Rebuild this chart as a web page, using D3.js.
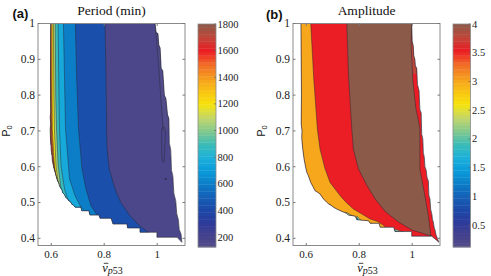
<!DOCTYPE html>
<html><head><meta charset="utf-8">
<script src="https://cdn.jsdelivr.net/npm/d3@7"></script>
<style>body{margin:0;background:#fff;}svg{display:block;}</style>
</head><body><svg id="c" width="491" height="276"></svg>
<script>
// ---------------- data ----------------
const xTicks = [0.6, 0.8, 1];
const yTicks = [0.4, 0.5, 0.6, 0.7, 0.8, 0.9, 1];
const periodTicks = [200, 400, 600, 800, 1000, 1200, 1400, 1600, 1800];
const amplitudeTicks = [0.5, 1, 1.5, 2, 2.5, 3, 3.5, 4];
const periodRange = [125, 1800];
const amplitudeRange = [0.12, 4];
const cmapT = [0, 0.05, 0.11, 0.17, 0.23, 0.285, 0.34, 0.40, 0.46, 0.52, 0.58, 0.64, 0.70, 0.76, 0.82, 0.88, 0.94, 1];
const cmapColors = ['#544f8a','#45418c','#2c3a9a','#1c4aa8','#1462b8','#0c7ec8','#0a9ada','#1cb0da','#3cbcb8','#84c98e','#c4d66a','#f6e40c','#f9c214','#f59b1f','#f16a27','#ec1c24','#c0463a','#8b5a48'];

// Period panel: valid region outline (v_p53, P0)
const periodOutline = [
 [0.598,1.0],[0.992,1.0],[0.996,0.975],[1.003,0.972],[1.006,0.94],[1.011,0.932],[1.015,0.875],[1.021,0.868],
 [1.027,0.80],[1.033,0.79],[1.039,0.745],[1.044,0.735],[1.046,0.665],[1.051,0.648],[1.054,0.59],[1.059,0.575],
 [1.063,0.525],[1.070,0.505],[1.074,0.468],[1.080,0.452],[1.083,0.425],[1.090,0.412],[1.093,0.389],
 [1.075,0.403],[0.999,0.403],[0.999,0.417],[0.935,0.417],[0.935,0.429],[0.888,0.429],[0.886,0.440],[0.833,0.440],
 [0.826,0.456],[0.784,0.456],[0.780,0.465],[0.746,0.465],[0.742,0.477],[0.715,0.477],[0.712,0.487],[0.690,0.487],
 [0.684,0.493],[0.678,0.495],[0.672,0.503],[0.666,0.505],[0.662,0.510],[0.655,0.514],[0.650,0.522],[0.643,0.528],
 [0.640,0.536],[0.636,0.540],[0.631,0.547],[0.628,0.556],[0.624,0.560],[0.618,0.575],[0.615,0.584],[0.612,0.590],
 [0.608,0.603],[0.606,0.611],[0.604,0.618],[0.603,0.631],[0.601,0.640],[0.600,0.645],[0.599,0.659],[0.597,0.680],
 [0.596,0.705],[0.598,0.720],[0.596,0.740],[0.598,0.750],[0.597,0.850]
];
// contour boundaries, right to left (band on the left of each edge gets the next value)
const periodBandValues = [170, 435, 602, 762, 880, 1046, 1197, 1450, 1700];
const periodEdge1 = [[0.803,1.0],[0.807,0.845],[0.809,0.705],[0.811,0.649],[0.819,0.594],[0.841,0.538],[0.862,0.501],[0.897,0.463],[0.934,0.435],[0.964,0.418],[1.0,0.40]];
const periodEdge2 = [[0.691,1.0],[0.696,0.845],[0.703,0.705],[0.716,0.594],[0.731,0.538],[0.750,0.491],[0.773,0.465],[0.79,0.445]];
const periodEdge3 = [[0.646,1.0],[0.650,0.85],[0.654,0.705],[0.669,0.566],[0.690,0.519],[0.712,0.487],[0.731,0.473],[0.746,0.46]];
const periodEdge4 = [[0.626,1.0],[0.629,0.80],[0.631,0.705],[0.637,0.603],[0.650,0.538],[0.662,0.510],[0.679,0.493],[0.701,0.476]];
const periodEdge5 = [[0.615,1.0],[0.617,0.80],[0.620,0.705],[0.626,0.603],[0.637,0.538],[0.648,0.510],[0.671,0.487]];
const periodEdge6 = [[0.608,1.0],[0.610,0.80],[0.612,0.705],[0.618,0.603],[0.629,0.538],[0.641,0.510],[0.66,0.49]];
const periodEdge7 = [[0.603,1.0],[0.603,0.80],[0.604,0.705],[0.612,0.603],[0.622,0.538],[0.633,0.510],[0.655,0.49]];
const periodEdge8 = [[0.597,1.0],[0.599,0.85],[0.600,0.74],[0.602,0.68],[0.605,0.64],[0.611,0.60],[0.62,0.57],[0.63,0.55]];
const periodRidge = [[0.992,1.0],[0.998,0.95],[1.006,0.88],[1.013,0.80],[1.019,0.74],[1.023,0.70]];
const periodRidgeValue = 135;
const periodLoop = [[1.018,0.705],[1.017,0.66],[1.018,0.625],[1.022,0.613],[1.026,0.618],[1.029,0.66],[1.030,0.705]];
const periodDot = [[1.032,0.566]];

// Amplitude panel
const amplitudeOutline = [
 [0.580,1.0],[0.998,1.0],[1.000,0.95],[1.004,0.938],[1.006,0.91],[1.010,0.90],[1.012,0.882],[1.017,0.875],
 [1.020,0.83],[1.026,0.812],[1.029,0.76],[1.034,0.75],[1.036,0.69],[1.040,0.678],[1.042,0.64],[1.046,0.625],
 [1.048,0.60],[1.053,0.59],[1.056,0.57],[1.061,0.56],[1.063,0.52],[1.067,0.51],[1.070,0.48],[1.074,0.468],
 [1.077,0.452],[1.080,0.445],[1.083,0.43],[1.086,0.424],[1.090,0.41],[1.095,0.40],[1.101,0.389],
 [1.074,0.406],[0.998,0.406],[0.998,0.419],[0.935,0.419],[0.930,0.431],[0.879,0.431],[0.875,0.442],[0.841,0.442],
 [0.835,0.449],[0.791,0.452],[0.785,0.462],[0.759,0.465],[0.752,0.470],[0.735,0.475],[0.715,0.482],[0.705,0.486],
 [0.696,0.491],[0.685,0.496],[0.677,0.501],[0.665,0.510],[0.652,0.524],[0.640,0.530],[0.633,0.533],[0.625,0.545],
 [0.617,0.556],[0.608,0.575],[0.602,0.585],[0.599,0.594],[0.592,0.621],[0.587,0.649],[0.583,0.680],[0.584,0.700],
 [0.581,0.720],[0.582,0.80]
];
const amplitudeBaseValue = 3.54;           // red band
const amplitudeOrangeValue = 3.0;
const amplitudeBrownValue = 4.0;
const amplitudeDarkRedValue = 3.78;
const amplitudeBitValue = 2.3;
const amplitudeBitInnerValue = 1.3;
const amplitudeEdgeOrange = [[0.617,1.0],[0.628,0.85],[0.642,0.705],[0.652,0.649],[0.671,0.594],[0.690,0.556],[0.728,0.519],[0.750,0.501],[0.778,0.482],[0.810,0.468],[0.841,0.454],[0.87,0.447],[0.89,0.437],[0.91,0.425]];
const amplitudeBrownLeft = [[0.753,1.0],[0.760,0.85],[0.772,0.705],[0.778,0.649],[0.797,0.594],[0.826,0.552],[0.860,0.510],[0.897,0.476],[0.947,0.446],[1.0,0.423],[1.074,0.406]];
const amplitudeBrownRight = [[1.070,0.41],[1.061,0.463],[1.048,0.519],[1.029,0.594],[1.029,0.705],[1.026,0.72],[1.014,0.762],[1.003,0.837],[0.996,0.937],[0.998,1.0]];
const amplitudeDarkRedEdge = [[0.998,1.0],[0.996,0.937],[1.001,0.86]];
const amplitudeBits = [[0.645,0.663,0.504,0.518],[0.690,0.72,0.482,0.496],[0.754,0.785,0.465,0.473],[0.795,0.815,0.451,0.462],[0.848,0.879,0.434,0.443],[0.935,0.992,0.418,0.426]];

// ---------------- drawing ----------------
const svg = d3.select('#c');
const serif = "'Liberation Serif', 'Times New Roman', serif";
const sans = "'Liberation Sans', Arial, sans-serif";
const yScale = d3.scaleLinear().domain([0.38, 1]).range([245.5, 23.5]);
const xDomain = [0.55, 1.105];

function cmap(range){
  return d3.scaleLinear().domain(cmapT.map(t => range[0] + t*(range[1]-range[0]))).range(cmapColors).interpolate(d3.interpolateRgb).clamp(true);
}
function leftRegion(pts){
  const last = pts[pts.length-1];
  return pts.concat([[last[0],0.30],[0.50,0.30],[0.50,1.03],[pts[0][0],1.03]]);
}
function rightRegion(pts){
  const last = pts[pts.length-1];
  return pts.concat([[1.25,last[1]],[1.25,1.03],[pts[0][0],1.03]]);
}

function panel(cfg){
  const x = d3.scaleLinear().domain(xDomain).range([cfg.left, cfg.right]);
  const y = yScale;
  const color = cmap(cfg.range);
  const line = d3.line().x(d => x(d[0])).y(d => y(d[1]));
  const poly = pts => line(pts) + 'Z';
  const g = svg.append('g');
  const clipId = 'clip' + cfg.id;
  svg.append('clipPath').attr('id', clipId).append('path').attr('d', poly(cfg.outline));
  const axClip = 'ax' + cfg.id;
  svg.append('clipPath').attr('id', axClip).append('rect').attr('x', cfg.left).attr('y', 23.5).attr('width', cfg.right-cfg.left).attr('height', 222);
  const body = g.append('g').attr('clip-path', `url(#${axClip})`).append('g').attr('clip-path', `url(#${clipId})`);
  cfg.fills(body, {x, y, color, line, poly});
  g.append('g').attr('clip-path', `url(#${axClip})`).append('path').attr('d', poly(cfg.outline))
    .attr('fill','none').attr('stroke','#2a2a3a').attr('stroke-width',0.7).attr('stroke-linejoin','round');

  // axes box
  g.append('rect').attr('x', cfg.left).attr('y', 23.5).attr('width', cfg.right-cfg.left).attr('height', 222)
    .attr('fill','none').attr('stroke','#8a8a8a').attr('stroke-width',1);
  const tk = 2.5;
  xTicks.forEach(v => {
    g.append('line').attr('x1', x(v)).attr('x2', x(v)).attr('y1', 245.5).attr('y2', 245.5-tk).attr('stroke','#777');
    g.append('line').attr('x1', x(v)).attr('x2', x(v)).attr('y1', 23.5).attr('y2', 23.5+tk).attr('stroke','#777');
    g.append('text').attr('x', x(v)).attr('y', 258).attr('text-anchor','middle')
      .style('font-family', serif).style('font-size','11px').attr('fill','#222').text(d3.format('')(v));
  });
  yTicks.forEach(v => {
    g.append('line').attr('x1', cfg.left).attr('x2', cfg.left+tk).attr('y1', y(v)).attr('y2', y(v)).attr('stroke','#777');
    g.append('line').attr('x1', cfg.right).attr('x2', cfg.right-tk).attr('y1', y(v)).attr('y2', y(v)).attr('stroke','#777');
    g.append('text').attr('x', cfg.left-3).attr('y', y(v)+3.8).attr('text-anchor','end')
      .style('font-family', serif).style('font-size','11.5px').attr('fill','#222').text(d3.format('')(v));
  });
  // title and tag
  g.append('text').attr('x', (cfg.left+cfg.right)/2).attr('y', 14.5).attr('text-anchor','middle')
    .style('font-family', serif).style('font-size','13.5px').attr('fill','#111').text(cfg.title);
  g.append('text').attr('x', cfg.tagX).attr('y', cfg.tagY)
    .style('font-family', sans).style('font-size','13px').style('font-weight','bold').attr('fill','#111').text(cfg.tag);
  // y label P0
  const yl = g.append('text').attr('transform', `translate(${cfg.left-28.5},131) rotate(-90)`).attr('text-anchor','middle')
    .style('font-family', sans).attr('fill','#111');
  yl.append('tspan').style('font-size','10.5px').text('P');
  yl.append('tspan').style('font-size','7.5px').attr('dy', 2.5).text('0');
  // x label  v-bar with subscript p53
  const cx = (cfg.left+cfg.right)/2 + 1;
  const xl = g.append('text').attr('x', cx).attr('y', 271.5).attr('text-anchor','middle').style('font-family', serif).attr('fill','#111');
  xl.append('tspan').style('font-size','12.5px').style('font-style','italic').text('v');
  xl.append('tspan').style('font-size','10px').style('font-style','italic').attr('dy', 2).text('p');
  xl.append('tspan').style('font-size','10px').text('53');
  const e = xl.node().getExtentOfChar(0);
  g.append('line').attr('x1', e.x+1.6).attr('x2', e.x+e.width+0.6).attr('y1', 263.3).attr('y2', 263.3)
    .attr('stroke','#111').attr('stroke-width',0.8);

  // colorbar
  const cb = d3.scaleLinear().domain(cfg.range).range([247, 24]);
  const n = 64;
  const cg = g.append('g');
  d3.range(n).forEach(i => {
    const v0 = cfg.range[0] + (cfg.range[1]-cfg.range[0])*i/n;
    const v1 = cfg.range[0] + (cfg.range[1]-cfg.range[0])*(i+1)/n;
    cg.append('rect').attr('x', cfg.cbLeft).attr('width', cfg.cbRight-cfg.cbLeft)
      .attr('y', cb(v1)).attr('height', cb(v0)-cb(v1)+0.4).attr('fill', color((v0+v1)/2));
  });
  cg.append('rect').attr('x', cfg.cbLeft).attr('y', 24).attr('width', cfg.cbRight-cfg.cbLeft).attr('height', 223)
    .attr('fill','none').attr('stroke','#8a8a8a').attr('stroke-width',0.8);
  cfg.ticks.forEach(v => {
    cg.append('line').attr('x1', cfg.cbRight).attr('x2', cfg.cbRight-2).attr('y1', cb(v)).attr('y2', cb(v)).attr('stroke','#666').attr('stroke-width',0.7);
    cg.append('text').attr('x', cfg.cbRight+1.5).attr('y', cb(v)+3.5)
      .style('font-family', serif).style('font-size','10.5px').attr('fill','#222').text(d3.format('')(v));
  });
}

const edgeStroke = sel => sel.attr('fill','none').attr('stroke','#262636').attr('stroke-width',0.55).attr('stroke-opacity',0.85);

panel({
  id:'a', left:38, right:185, cbLeft:198, cbRight:216, range: periodRange, ticks: periodTicks,
  outline: periodOutline, title:'Period (min)', tag:'(a)', tagX:12.5, tagY:18,
  fills: (b, s) => {
    const edges = [periodEdge1, periodEdge2, periodEdge3, periodEdge4, periodEdge5, periodEdge6, periodEdge7, periodEdge8];
    b.append('path').attr('d', s.poly(periodOutline)).attr('fill', s.color(periodBandValues[0]));
    b.append('path').attr('d', s.poly(rightRegion(periodRidge))).attr('fill', s.color(periodRidgeValue));
    b.append('path').attr('d', s.line(periodRidge)).call(edgeStroke);
    edges.forEach((ed, i) => {
      b.append('path').attr('d', s.poly(leftRegion(ed))).attr('fill', s.color(periodBandValues[i+1]));
    });
    edges.forEach(ed => b.append('path').attr('d', s.line(ed)).call(edgeStroke));
    b.append('path').attr('d', d3.line().curve(d3.curveCardinalClosed).x(d => s.x(d[0])).y(d => s.y(d[1]))(periodLoop)).call(edgeStroke);
    periodDot.forEach(d => b.append('circle').attr('cx', s.x(d[0])).attr('cy', s.y(d[1])).attr('r', 0.9).attr('fill','#262636'));
  }
});

panel({
  id:'b', left:293, right:440, cbLeft:453, cbRight:470.5, range: amplitudeRange, ticks: amplitudeTicks,
  outline: amplitudeOutline, title:'Amplitude', tag:'(b)', tagX:266, tagY:19,
  fills: (b, s) => {
    b.append('path').attr('d', s.poly(amplitudeOutline)).attr('fill', s.color(amplitudeBaseValue));
    b.append('path').attr('d', s.poly(rightRegion(amplitudeDarkRedEdge))).attr('fill', s.color(amplitudeDarkRedValue));
    b.append('path').attr('d', s.poly(leftRegion(amplitudeEdgeOrange))).attr('fill', s.color(amplitudeOrangeValue));
    const brown = amplitudeBrownLeft.concat(amplitudeBrownRight);
    b.append('path').attr('d', s.poly(brown)).attr('fill', s.color(amplitudeBrownValue));
    b.append('path').attr('d', s.line(amplitudeEdgeOrange)).call(edgeStroke);
    b.append('path').attr('d', s.poly(brown)).call(edgeStroke);
    amplitudeBits.forEach(d => {
      const [v1, v2, p0, p1] = d;
      const pts = [[v1-0.004, p1], [v2, p0-0.006], [v1-0.01, p0-0.012]];
      b.append('path').attr('d', s.poly(pts)).attr('fill', s.color(amplitudeBitValue)).attr('stroke','#2a3a5a').attr('stroke-width',0.5);
      const inner = [[v1-0.004, p1-0.002], [v1+(v2-v1)*0.4, p0-0.004], [v1-0.01, p0-0.012]];
      b.append('path').attr('d', s.poly(inner)).attr('fill', s.color(amplitudeBitInnerValue));
    });
  }
});
</script></body></html>
